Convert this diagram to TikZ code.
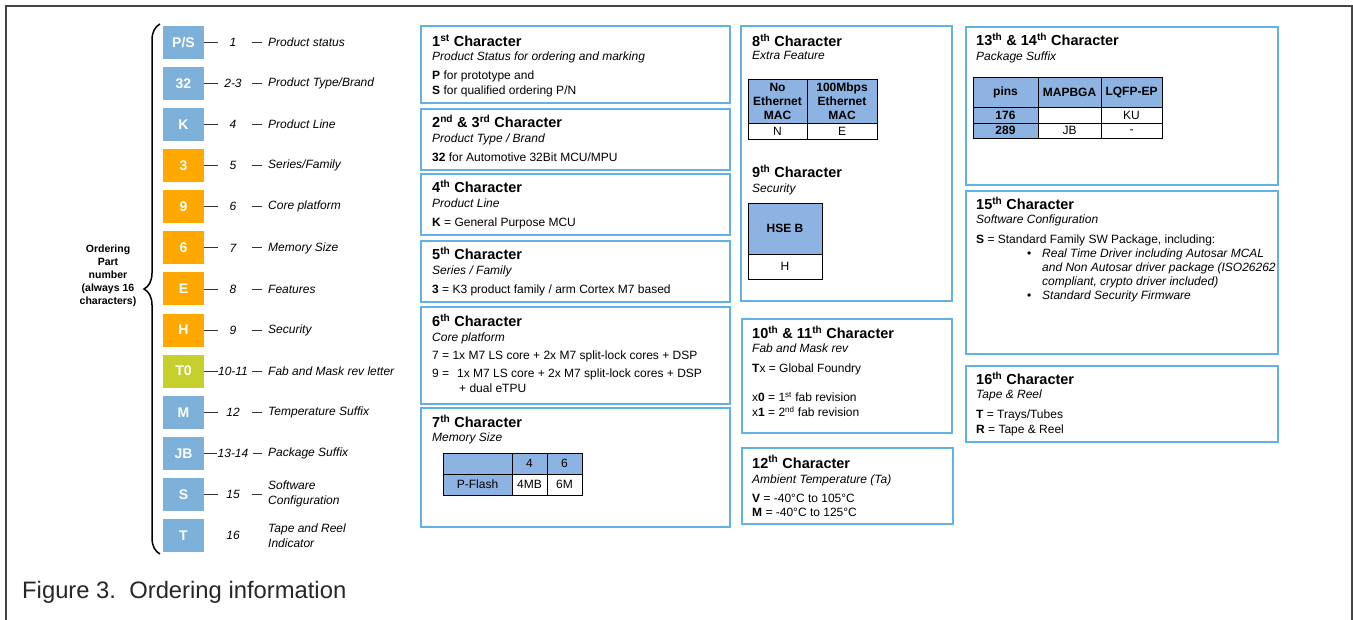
\documentclass[tikz,border=0pt]{standalone}
\usepackage{fontspec}
\setmainfont{Liberation Sans}
\usetikzlibrary{positioning,decorations.pathreplacing}
\definecolor{cblue}{HTML}{7DB1DA}
\definecolor{corange}{HTML}{FFA900}
\definecolor{cgreen}{HTML}{C6D02C}
\definecolor{pborder}{HTML}{62B2E6}
\definecolor{thead}{HTML}{8DB3E2}
\definecolor{cframe}{HTML}{444444}

\begin{document}
\begin{tikzpicture}[x=1pt, y=-1pt]
    \useasboundingbox (0,0) rectangle (1353,620);

    % Estilos
    \tikzstyle{charbox}=[minimum width=41pt, minimum height=33pt, inner sep=0pt, text=white, font=\fontsize{14}{16}\selectfont\bfseries]
    \tikzstyle{posnum}=[minimum width=30pt, inner sep=0pt, font=\fontsize{12}{14}\selectfont\itshape]
    \tikzstyle{posdesc}=[anchor=west, inner sep=0pt, align=left, font=\fontsize{12}{15}\selectfont\itshape]
    \tikzstyle{tickline}=[line width=0.8pt, black!80]
    \tikzstyle{panel}=[draw=pborder, line width=1.5pt]
    \tikzstyle{phead}=[anchor=base west, inner sep=0pt, font=\fontsize{14.5}{17}\selectfont\bfseries]
    \tikzstyle{psub}=[anchor=base west, inner sep=0pt, font=\fontsize{12}{14}\selectfont\itshape]
    \tikzstyle{pbody}=[anchor=base west, inner sep=0pt, align=left, font=\fontsize{12}{15}\selectfont]
    \tikzstyle{tcell}=[draw=black, line width=0.8pt, fill=white, inner sep=0pt, align=center, font=\fontsize{12}{14}\selectfont]
    \tikzstyle{thcell}=[tcell, fill=thead]
    \tikzstyle{tbold}=[font=\fontsize{12}{14}\selectfont\bfseries]

    % Marco
    \draw[cframe, line width=2pt] (6,620) -- (6,6) -- (1352,6) -- (1352,620);

    % Caracteres del numero de pedido
    \foreach \cod/\col/\pos/\lbl [count=\i from 0] in {
        {P/S}/cblue/1/Product status,
        32/cblue/2-3/{Product Type/Brand},
        K/cblue/4/Product Line,
        3/corange/5/{Series/Family},
        9/corange/6/Core platform,
        6/corange/7/Memory Size,
        E/corange/8/Features,
        H/corange/9/Security,
        T0/cgreen/10-11/Fab and Mask rev letter,
        M/cblue/12/Temperature Suffix,
        JB/cblue/13-14/Package Suffix,
        S/cblue/15/{Software\\Configuration},
        T/cblue/16/{Tape and Reel\\Indicator}}
    {
        \node[charbox, fill=\col] (c\i) at (183.5,42.5+41.08*\i) {\cod};
        \node[posnum] (n\i) at (233,42.5+41.08*\i) {\pos};
        \node[posdesc] (d\i) at (268,42.5+41.08*\i) {\lbl};
    }
    \foreach \i in {0,...,11} {
        \draw[tickline] (c\i.east) -- (n\i.west);
        \draw[tickline, shorten <=4pt, shorten >=6pt] (n\i.east) -- (d\i.west);
    }

    % Llave
    \coordinate (btop) at (160,24);
    \coordinate (bbot) at (160,554);
    \draw[decorate, decoration={brace, amplitude=16pt}, line width=1.5pt] (bbot) -- (btop);
    \node[align=center, font=\fontsize{10.5}{13}\selectfont\bfseries] (opn) at (108,276)
        {Ordering\\Part\\number\\(always 16\\characters)};

    % Columna 2 (texto de varias lineas: base = ultima linea)
    \draw[panel] (421,26) rectangle (730,103);
    \node[phead] (h1) at (432,47) {1\textsuperscript{st} Character};
    \node[psub] (s1) at (432,61) {Product Status for ordering and marking};
    \node[pbody] (b1) at (432,95) {\textbf{P} for prototype and\\\textbf{S} for qualified ordering P/N};

    \draw[panel] (421,109) rectangle (730,170);
    \node[phead] (h2) at (432,128) {2\textsuperscript{nd} \& 3\textsuperscript{rd} Character};
    \node[psub] (s2) at (432,143) {Product Type / Brand};
    \node[pbody] (b2) at (432,162) {\textbf{32} for Automotive 32Bit MCU/MPU};

    \draw[panel] (421,174) rectangle (730,235);
    \node[phead] (h4) at (432,193) {4\textsuperscript{th} Character};
    \node[psub] (s4) at (432,208) {Product Line};
    \node[pbody] (b4) at (432,227) {\textbf{K} = General Purpose MCU};

    \draw[panel] (421,241) rectangle (730,302);
    \node[phead] (h5) at (432,260) {5\textsuperscript{th} Character};
    \node[psub] (s5) at (432,275) {Series / Family};
    \node[pbody] (b5) at (432,294) {\textbf{3} = K3 product family / arm Cortex M7 based};

    \draw[panel] (421,307) rectangle (730,404);
    \node[phead] (h6) at (432,327) {6\textsuperscript{th} Character};
    \node[psub] (s6) at (432,342) {Core platform};
    \node[pbody] (b6a) at (432,360) {7 = 1x M7 LS core + 2x M7 split-lock cores + DSP};
    \node[pbody] (b6b) at (432,392) {\makebox[25pt][l]{9 =}1x M7 LS core + 2x M7 split-lock cores + DSP\\\hspace*{27pt}+ dual eTPU};

    \draw[panel] (421,408) rectangle (730,527);
    \node[phead] (h7) at (432,428) {7\textsuperscript{th} Character};
    \node[psub] (s7) at (432,442) {Memory Size};
    \node[thcell, minimum width=69pt, minimum height=21pt] (m11) at (477.5,463.5) {};
    \node[thcell, minimum width=35pt, minimum height=21pt] (m12) at (529.5,463.5) {4};
    \node[thcell, minimum width=35pt, minimum height=21pt] (m13) at (564.5,463.5) {6};
    \node[thcell, minimum width=69pt, minimum height=21pt] (m21) at (477.5,484.5) {P-Flash};
    \node[tcell, minimum width=35pt, minimum height=21pt] (m22) at (529.5,484.5) {4MB};
    \node[tcell, minimum width=35pt, minimum height=21pt] (m23) at (564.5,484.5) {6M};

    % Columna 3
    \draw[panel] (741,26) rectangle (952,301);
    \node[phead] (h8) at (752,47) {8\textsuperscript{th} Character};
    \node[psub] (s8) at (752,60) {Extra Feature};
    \node[thcell, tbold, minimum width=59pt, minimum height=44pt] (e11) at (777.5,101) {No\\Ethernet\\MAC};
    \node[thcell, tbold, minimum width=70pt, minimum height=44pt] (e12) at (842,101) {100Mbps\\Ethernet\\MAC};
    \node[tcell, minimum width=59pt, minimum height=16pt] (e21) at (777.5,131) {N};
    \node[tcell, minimum width=70pt, minimum height=16pt] (e22) at (842,131) {E};
    \node[phead] (h9) at (752,178) {9\textsuperscript{th} Character};
    \node[psub] (s9) at (752,193) {Security};
    \node[thcell, tbold, minimum width=74pt, minimum height=51pt] (k11) at (785,228.5) {HSE B};
    \node[tcell, minimum width=74pt, minimum height=25pt] (k21) at (785,266.5) {H};

    \draw[panel] (742,319) rectangle (952,433);
    \node[phead] (h10) at (752,339) {10\textsuperscript{th} \& 11\textsuperscript{th} Character};
    \node[psub] (s10) at (752,353) {Fab and Mask rev};
    \node[pbody] (b10a) at (752,373) {\textbf{T}x = Global Foundry};
    \node[pbody] (b10b) at (752,417) {x\textbf{0} = 1\textsuperscript{st} fab revision\\x\textbf{1} = 2\textsuperscript{nd} fab revision};

    \draw[panel] (742,448) rectangle (953,524);
    \node[phead] (h12) at (752,468) {12\textsuperscript{th} Character};
    \node[psub] (s12) at (752,483) {Ambient Temperature (Ta)};
    \node[pbody, font=\fontsize{12}{14}\selectfont] (b12) at (752,516) {\textbf{V} = -40°C to 105°C\\\textbf{M} = -40°C to 125°C};

    % Columna 4
    \draw[panel] (966,27) rectangle (1278,185);
    \node[phead] (h13) at (976,46) {13\textsuperscript{th} \& 14\textsuperscript{th} Character};
    \node[psub] (s13) at (976,61) {Package Suffix};
    \node[thcell, tbold, minimum width=65pt, minimum height=30pt] (p11) at (1005.5,92) {pins};
    \node[thcell, tbold, minimum width=63pt, minimum height=30pt] (p12) at (1069.5,92) {MAPBGA};
    \node[thcell, tbold, minimum width=61pt, minimum height=30pt] (p13) at (1131.5,92) {LQFP-EP};
    \node[thcell, tbold, minimum width=65pt, minimum height=16pt] (p21) at (1005.5,115) {176};
    \node[tcell, minimum width=63pt, minimum height=16pt] (p22) at (1069.5,115) {};
    \node[tcell, minimum width=61pt, minimum height=16pt] (p23) at (1131.5,115) {KU};
    \node[thcell, tbold, minimum width=65pt, minimum height=15pt] (p31) at (1005.5,130.5) {289};
    \node[tcell, minimum width=63pt, minimum height=15pt] (p32) at (1069.5,130.5) {JB};
    \node[tcell, minimum width=61pt, minimum height=15pt, text height=6pt] (p33) at (1131.5,130.5) {-};

    \draw[panel] (966,191) rectangle (1278,354);
    \node[phead] (h15) at (976,210) {15\textsuperscript{th} Character};
    \node[psub] (s15) at (976,224) {Software Configuration};
    \node[pbody] (b15) at (976,244) {\textbf{S} = Standard Family SW Package, including:};
    \node[pbody] (bu1) at (1027,258) {•};
    \node[pbody] (bu2) at (1027,300) {•};
    \node[pbody, font=\fontsize{12}{14}\selectfont\itshape] (b15b) at (1042,300)
        {Real Time Driver including Autosar MCAL\\and Non Autosar driver package (ISO26262\\compliant, crypto driver included)\\Standard Security Firmware};

    \draw[panel] (966,366) rectangle (1278,442);
    \node[phead] (h16) at (976,385) {16\textsuperscript{th} Character};
    \node[psub] (s16) at (976,399) {Tape \& Reel};
    \node[pbody] (b16) at (976,433) {\textbf{T} = Trays/Tubes\\\textbf{R} = Tape \& Reel};

    % Titulo
    \node[anchor=base west, inner sep=0pt, font=\fontsize{23.8}{27}\selectfont, text=black!85] (cap) at (22,598)
        {Figure 3.\ \ Ordering information};
\end{tikzpicture}
\end{document}
